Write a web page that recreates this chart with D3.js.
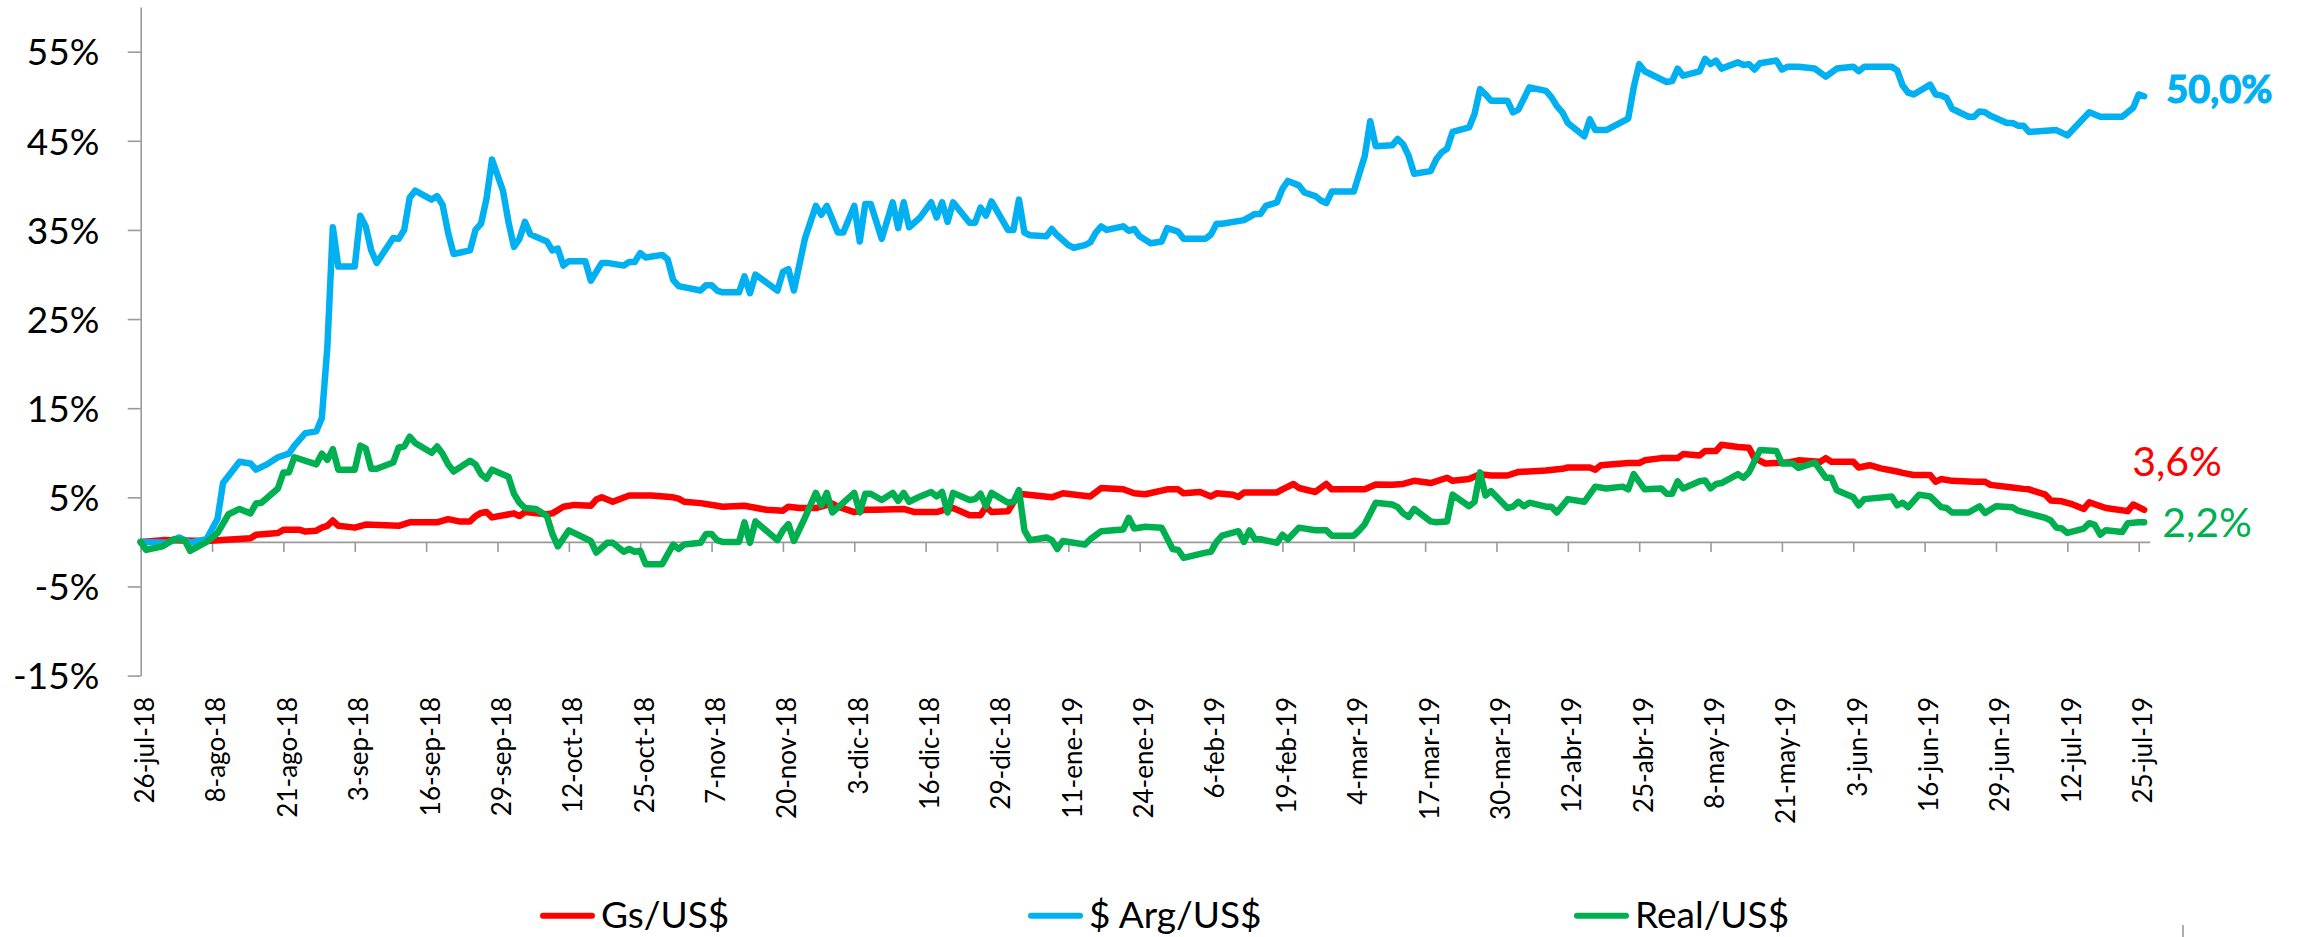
<!DOCTYPE html>
<html>
<head>
<meta charset="utf-8">
<script src="https://cdn.jsdelivr.net/npm/d3@7"></script>
<style>
  html, body { margin: 0; padding: 0; background: #ffffff; }
  svg { display: block; }
  text { font-family: Lato, "Noto Sans", sans-serif; }
</style>
</head>
<body>
<svg id="chart" width="2298" height="937"></svg>
<script>
// Variación acumulada del tipo de cambio frente al dólar (26-jul-18 = 0)
// Each point: [días desde 26-jul-18, variación %]
const startDate = new Date(Date.UTC(2018, 6, 26));

const seriesNames = ["Gs/US$", "$ Arg/US$", "Real/US$"];
const seriesColors = ["#ff0000", "#00b0f0", "#00b050"];

const gsUsd = [
  [0,0],[4,0.2],[12,0.1],[20,0.4],[21,0.8],[25,1.0],[26,1.35],[29,1.35],[30,1.16],[32,1.26],
  [33,1.6],[34,1.8],[35,2.4],[36,1.8],[39,1.6],[41,1.95],[47,1.8],[49,2.2],[54,2.2],[56,2.55],
  [58,2.3],[60,2.3],[61,2.9],[62,3.25],[63,3.35],[64,2.75],[68,3.2],[69,2.9],[70,3.35],[74,3.1],
  [75,3.2],[77,3.95],[79,4.15],[82,4.05],[83,4.75],[84,5.0],[86,4.5],[89,5.2],[93,5.2],[97,5.0],
  [98,4.85],[99,4.5],[102,4.35],[105,4.05],[106,3.95],[110,4.05],[114,3.6],[117,3.5],[118,3.95],[120,3.8],
  [123,3.8],[126,4.3],[127,3.95],[130,3.35],[132,3.6],[134,3.6],[139,3.7],[141,3.35],[145,3.35],[147,3.7],
  [148,3.8],[151,3.0],[153,3.0],[154,3.95],[155,3.35],[158,3.45],[160,5.4],[166,5.0],[168,5.45],[173,5.1],
  [175,6.05],[179,5.9],[181,5.45],[183,5.35],[187,5.9],[189,5.9],[190,5.45],[193,5.6],[195,5.1],[196,5.45],
  [199,5.3],[200,5.05],[201,5.55],[207,5.55],[208,5.9],[210,6.5],[211,6.05],[214,5.6],[216,6.5],[217,5.9],
  [223,5.9],[225,6.45],[228,6.4],[230,6.5],[232,6.85],[235,6.6],[238,7.2],[239,6.85],[242,7.05],[244,7.6],
  [246,7.45],[249,7.45],[251,7.85],[256,8.0],[259,8.2],[260,8.35],[264,8.35],[265,8.1],[266,8.6],[271,8.85],
  [273,8.85],[274,9.15],[277,9.4],[280,9.4],[281,9.85],[284,9.7],[285,10.2],[287,10.2],[288,10.9],[291,10.65],
  [293,10.55],[294,9.4],[296,8.8],[300,8.9],[302,9.15],[306,9.0],[307,9.4],[308,9.0],[312,9.0],[313,8.35],
  [315,8.6],[317,8.25],[320,7.9],[321,7.75],[323,7.5],[326,7.5],[327,6.75],[328,7.05],[330,6.85],[334,6.75],
  [336,6.75],[337,6.4],[341,6.1],[343,5.95],[344,5.9],[347,5.3],[348,4.65],[350,4.55],[352,4.2],[354,3.7],
  [355,4.45],[358,3.8],[362,3.45],[363,4.2],[365,3.6]
];

const arsUsd = [
  [0,0],[5,-0.1],[7,0.5],[9,-0.1],[12,0.3],[14,2.6],[15,6.6],[18,9.0],[20,8.8],[21,8.1],
  [23,8.7],[25,9.5],[27,9.9],[28,10.8],[30,12.2],[32,12.4],[33,13.9],[34,21.8],[35,35.3],[36,30.9],
  [39,30.9],[40,36.6],[41,35.4],[42,32.7],[43,31.3],[46,34.1],[47,34.0],[48,35.0],[49,38.6],[50,39.4],
  [53,38.4],[54,38.8],[55,37.8],[56,34.7],[57,32.3],[60,32.7],[61,35.0],[62,35.7],[63,38.5],[64,42.9],
  [66,39.4],[67,35.9],[68,33.1],[69,34.0],[70,35.9],[71,34.5],[74,33.7],[75,32.7],[76,32.9],[77,31.0],
  [78,31.5],[81,31.5],[82,29.3],[84,31.3],[85,31.3],[88,31.0],[89,31.4],[90,31.4],[91,32.4],[92,31.9],
  [95,32.2],[96,31.7],[97,29.4],[98,28.7],[102,28.2],[103,28.8],[104,28.8],[105,28.2],[106,28.0],[109,28.0],
  [110,29.8],[111,27.9],[112,30.0],[116,28.2],[117,30.3],[118,30.6],[119,28.2],[121,34.0],[123,37.7],[124,36.7],
  [125,37.7],[127,34.7],[128,34.7],[130,37.7],[131,33.7],[132,37.9],[133,37.9],[135,34.0],[137,38.1],[138,35.2],
  [139,38.1],[140,35.3],[142,36.4],[144,38.1],[145,36.4],[146,38.1],[147,35.9],[148,38.1],[151,35.8],[152,35.8],
  [153,37.5],[154,36.6],[155,38.2],[158,35.0],[159,35.0],[160,38.4],[161,34.7],[162,34.4],[165,34.3],[166,35.1],
  [167,34.4],[169,33.3],[170,33.0],[172,33.3],[173,33.6],[174,34.7],[175,35.4],[176,35.0],[179,35.4],[180,34.9],
  [181,35.1],[182,34.3],[184,33.5],[186,33.7],[187,35.2],[189,34.8],[190,34.0],[194,34.0],[195,34.5],[196,35.7],
  [197,35.7],[201,36.1],[203,36.8],[204,36.8],[205,37.7],[207,38.1],[208,39.6],[209,40.5],[211,40.0],[212,39.2],
  [214,38.8],[215,38.3],[216,38.0],[217,39.3],[221,39.3],[223,43.3],[224,47.2],[225,44.4],[228,44.5],[229,45.2],
  [230,44.6],[231,43.3],[232,41.3],[235,41.6],[236,42.9],[237,43.7],[238,44.1],[239,46.0],[242,46.5],[243,48.0],
  [244,50.8],[245,50.2],[246,49.5],[249,49.5],[250,48.2],[251,48.5],[253,51.0],[256,50.6],[257,49.9],[258,48.9],
  [259,48.2],[260,47.0],[263,45.5],[264,47.4],[265,46.2],[267,46.2],[271,47.5],[272,51.0],[273,53.6],[274,52.8],
  [278,51.6],[279,51.7],[280,53.1],[281,52.3],[284,52.8],[285,54.2],[286,53.6],[287,54.0],[288,53.1],[291,53.8],
  [292,53.5],[293,53.6],[294,53.0],[295,53.7],[298,54.0],[299,53.0],[300,53.3],[302,53.3],[305,53.1],[307,52.2],
  [309,53.1],[312,53.3],[313,52.8],[314,53.3],[319,53.3],[320,52.9],[321,51.2],[322,50.4],[323,50.2],[326,51.3],
  [327,50.2],[328,50.1],[329,49.8],[330,48.6],[333,47.7],[334,47.7],[335,48.3],[336,48.2],[337,47.8],[340,47.0],
  [341,47.0],[342,46.7],[343,46.7],[344,46.0],[349,46.2],[351,45.6],[355,48.2],[357,47.7],[361,47.7],[363,48.7],
  [364,50.2],[365,50.0]
];

const brlUsd = [
  [0,0],[1,-0.9],[4,-0.5],[6,0.3],[8,0.2],[9,-1.0],[12,0],[14,1.0],[16,3.1],[18,3.7],
  [20,3.2],[21,4.3],[22,4.4],[25,6.0],[26,7.8],[27,7.8],[28,9.5],[32,8.7],[33,9.9],[34,9.2],
  [35,10.4],[36,8.1],[39,8.1],[40,10.8],[41,10.5],[42,8.2],[43,8.2],[46,8.9],[47,10.6],[48,10.7],
  [49,11.8],[50,11.1],[53,10.0],[54,10.7],[55,9.9],[56,8.7],[57,7.9],[60,9.1],[61,8.7],[62,7.6],
  [63,7.1],[64,8.1],[67,7.3],[68,5.4],[69,4.4],[70,3.8],[72,3.7],[74,2.9],[75,0.9],[76,-0.5],
  [78,1.3],[82,0.1],[83,-1.2],[85,-0.1],[86,-0.1],[88,-1.1],[89,-0.8],[90,-1.1],[91,-1.0],[92,-2.5],
  [95,-2.5],[97,-0.3],[98,-0.8],[99,-0.3],[102,-0.1],[103,0.9],[104,0.9],[105,0.2],[106,0],[109,0],
  [110,2.2],[111,-0.1],[112,2.3],[116,0.2],[117,1.3],[118,2.0],[119,0.1],[121,2.7],[123,5.5],[124,4.1],
  [125,5.5],[126,3.3],[130,5.5],[131,3.3],[132,5.4],[133,5.4],[135,4.7],[137,5.5],[138,4.6],[139,5.5],
  [140,4.5],[142,5.1],[144,5.6],[145,5.1],[146,5.6],[147,3.3],[148,5.5],[151,4.7],[152,4.8],[153,5.4],
  [154,4.0],[155,5.5],[158,4.4],[159,4.5],[160,5.8],[161,1.3],[162,0.2],[165,0.5],[166,0.2],[167,-0.8],
  [168,0.1],[172,-0.3],[173,0.3],[175,1.2],[179,1.4],[180,2.7],[181,1.5],[183,1.7],[186,1.6],[188,-0.8],
  [189,-0.9],[190,-1.8],[194,-1.2],[195,-1.1],[196,0],[197,0.7],[200,1.2],[201,0],[202,1.3],[203,0.3],
  [204,0.3],[207,-0.1],[208,0.8],[209,0.3],[211,1.6],[214,1.3],[216,1.3],[217,0.7],[221,0.7],[222,1.3],
  [223,2.0],[225,4.4],[228,4.2],[229,3.9],[230,3.2],[231,2.8],[232,3.7],[235,2.3],[236,2.2],[238,2.3],
  [239,5.3],[242,4.0],[243,4.5],[244,7.8],[245,5.2],[246,5.7],[249,3.8],[250,3.95],[251,4.5],[252,4.0],
  [253,4.4],[256,3.95],[257,3.95],[258,3.3],[260,4.8],[263,4.5],[265,6.2],[267,6.0],[270,6.2],[271,5.9],
  [272,7.6],[274,5.9],[277,6.0],[278,5.4],[279,5.4],[280,6.8],[281,6.0],[284,6.8],[285,6.9],[286,6.0],
  [287,6.5],[288,6.6],[291,7.6],[292,7.2],[293,7.8],[295,10.3],[298,10.2],[299,8.8],[301,8.8],[302,8.3],
  [305,8.9],[307,7.2],[308,7.2],[309,5.8],[312,5.0],[313,4.1],[314,4.8],[319,5.1],[320,4.1],[321,4.4],
  [322,3.9],[324,5.3],[326,5.1],[328,3.9],[329,3.8],[330,3.3],[333,3.3],[335,4.0],[336,3.25],[338,4.0],
  [341,3.9],[342,3.5],[347,2.7],[348,2.4],[349,1.6],[350,1.5],[351,1.0],[354,1.5],[355,2.1],[356,1.9],
  [357,0.8],[358,1.3],[361,1.1],[362,2.1],[364,2.2],[365,2.2]
];

const endLabels = ["3,6%", "50,0%", "2,2%"];

const yTicks = [-15, -5, 5, 15, 25, 35, 45, 55];
const yDomain = [-15, 60];

// Etiquetas del eje de fechas, una cada 13 días desde el 26-jul-18
const xTickStepDays = 13;
const xTickLabels = [
  "26-jul-18","8-ago-18","21-ago-18","3-sep-18","16-sep-18","29-sep-18","12-oct-18","25-oct-18",
  "7-nov-18","20-nov-18","3-dic-18","16-dic-18","29-dic-18","11-ene-19","24-ene-19","6-feb-19",
  "19-feb-19","4-mar-19","17-mar-19","30-mar-19","12-abr-19","25-abr-19","8-may-19","21-may-19",
  "3-jun-19","16-jun-19","29-jun-19","12-jul-19","25-jul-19"
];

const svg = d3.select("#chart");
const dayToDate = d => d3.utcDay.offset(startDate, d);

const x = d3.scaleUtc()
  .domain([startDate, dayToDate(366)])
  .range([140.7, 140.7 + 366 * 5.489]);

const y = d3.scaleLinear()
  .domain(yDomain)
  .range([675.6, 7.1]);

const axisColor = "#9a9a9a";

// Eje vertical
const yAxis = svg.append("g")
  .attr("transform", `translate(${x.range()[0]},0)`)
  .call(d3.axisLeft(y).tickValues(yTicks).tickSize(13).tickSizeOuter(0)
    .tickFormat(d => d + "%"));
yAxis.select(".domain").attr("stroke", axisColor).attr("stroke-width", 1.6);
yAxis.selectAll(".tick line").attr("stroke", axisColor).attr("stroke-width", 1.6);
yAxis.selectAll(".tick text")
  .attr("x", -41.4)
  .attr("dy", "0.36em")
  .attr("fill", "#000")
  .style("font-size", "37px")
  .style("font-family", "Lato, sans-serif");

// Eje horizontal en 0%
const tickDates = xTickLabels.map((_, i) => dayToDate(i * xTickStepDays));
const xAxis = svg.append("g")
  .attr("transform", `translate(0,${y(0)})`)
  .call(d3.axisBottom(x).tickValues(tickDates).tickSize(10).tickSizeOuter(0).tickFormat(""));
xAxis.select(".domain").attr("stroke", axisColor).attr("stroke-width", 1.6);
xAxis.selectAll(".tick line").attr("stroke", axisColor).attr("stroke-width", 1.6);

// Etiquetas de fecha verticales
svg.append("g")
  .selectAll("text")
  .data(xTickLabels)
  .join("text")
  .attr("transform", (d, i) => `translate(${x(tickDates[i]) + 4},697) rotate(-90)`)
  .attr("text-anchor", "end")
  .attr("dy", "0.36em")
  .attr("fill", "#000")
  .style("font-size", "26px")
  .text(d => d);

// Líneas de las tres monedas
const allSeries = [gsUsd, arsUsd, brlUsd];
const line = d3.line()
  .x(d => x(dayToDate(d[0])))
  .y(d => y(d[1]));

svg.append("g")
  .selectAll("path")
  .data(allSeries)
  .join("path")
  .attr("d", line)
  .attr("fill", "none")
  .attr("stroke", (d, i) => seriesColors[i])
  .attr("stroke-width", 6.5)
  .attr("stroke-linejoin", "round")
  .attr("stroke-linecap", "round");

// Valor final de cada serie (el del peso argentino, en negrita)
const endLabelPos = [
  { dx: -12, baseline: 475.5, size: 41, weight: 400, outline: 0 },
  { dx: 22, baseline: 102.7, size: 38, weight: 700, outline: 1.2 },
  { dx: 18, baseline: 536.5, size: 41, weight: 400, outline: 0 }
];
svg.append("g")
  .selectAll("text")
  .data(allSeries)
  .join("text")
  .attr("x", (d, i) => x(dayToDate(d[d.length - 1][0])) + endLabelPos[i].dx)
  .attr("y", (d, i) => endLabelPos[i].baseline)
  .attr("fill", (d, i) => seriesColors[i])
  .attr("stroke", (d, i) => endLabelPos[i].outline ? seriesColors[i] : "none")
  .attr("stroke-width", (d, i) => endLabelPos[i].outline)
  .style("font-size", (d, i) => endLabelPos[i].size + "px")
  .style("font-weight", (d, i) => endLabelPos[i].weight)
  .text((d, i) => endLabels[i]);

// Leyenda
const legendX = [540, 1028, 1574];
const legend = svg.append("g")
  .selectAll("g")
  .data(seriesNames)
  .join("g")
  .attr("transform", (d, i) => `translate(${legendX[i]},915.7)`);
legend.append("line")
  .attr("x1", 3).attr("x2", 52)
  .attr("stroke", (d, i) => seriesColors[i])
  .attr("stroke-width", 6)
  .attr("stroke-linecap", "round");
legend.append("text")
  .attr("x", 61)
  .attr("y", 12)
  .attr("fill", "#000")
  .style("font-size", "37px")
  .text(d => d);

// Borde inferior del área del gráfico
svg.append("line")
  .attr("x1", 2183).attr("x2", 2183)
  .attr("y1", 925).attr("y2", 937)
  .attr("stroke", axisColor).attr("stroke-width", 1.6);
</script>
</body>
</html>
